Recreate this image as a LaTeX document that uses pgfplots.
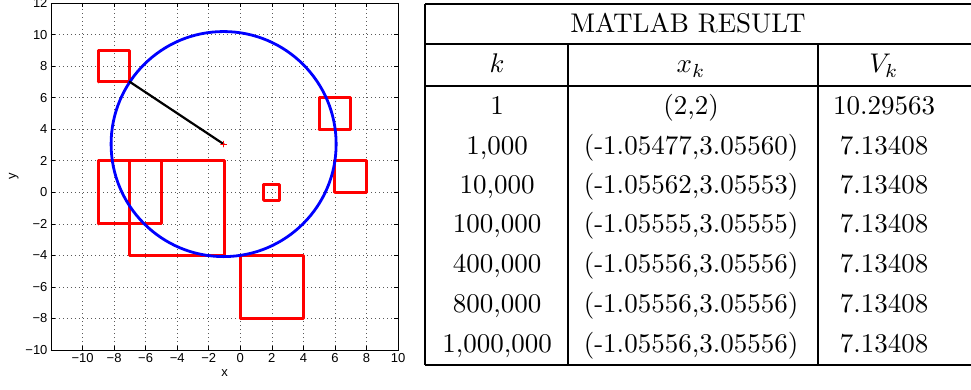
\documentclass[border=0pt]{standalone}
\usepackage{pgfplots}
\pgfplotsset{compat=1.18}
\usepackage{fontspec}
\newfontfamily\plotfont{Liberation Sans}
\newcommand\pf{\plotfont\fontsize{13}{13}\selectfont}

\begin{document}
\begin{tikzpicture}[x=1pt,y=1pt]
\useasboundingbox (0,0) rectangle (971,389);
\begin{axis}[
  at={(51pt,39pt)}, anchor=south west,
  scale only axis, width=347pt, height=347pt,
  xmin=-12, xmax=10, ymin=-10, ymax=12,
  xtick={-10,-8,...,10}, ytick={-10,-8,...,12},
  xticklabels={−10,−8,−6,−4,−2,0,2,4,6,8,10},
  yticklabels={−10,−8,−6,−4,−2,0,2,4,6,8,10,12},
  tick align=inside, tick pos=both, major tick length=4pt,
  grid=major,
  major grid style={black!65, line width=0.6pt, dash pattern=on 0.8pt off 3.2pt},
  axis line style={line width=0.8pt},
  tick style={black, line width=0.6pt},
  tick label style={font=\pf},
  label style={font=\pf},
  xlabel={x}, ylabel={y},
  every axis plot/.append style={line cap=round, line join=round},
]
% obstacles (squares)
\addplot[red, line width=2.9pt] coordinates {(-9,7) (-7,7) (-7,9) (-9,9) (-9,7)};
\addplot[red, line width=2.9pt] coordinates {(5,4) (7,4) (7,6) (5,6) (5,4)};
\addplot[red, line width=2.9pt] coordinates {(6,0) (8,0) (8,2) (6,2) (6,0)};
\addplot[red, line width=2.9pt] coordinates {(1.5,-0.5) (2.5,-0.5) (2.5,0.5) (1.5,0.5) (1.5,-0.5)};
\addplot[red, line width=2.9pt] coordinates {(-9,-2) (-5,-2) (-5,2) (-9,2) (-9,-2)};
\addplot[red, line width=2.9pt] coordinates {(-7,-4) (-1,-4) (-1,2) (-7,2) (-7,-4)};
\addplot[red, line width=2.9pt] coordinates {(0,-8) (4,-8) (4,-4) (0,-4) (0,-8)};
% largest empty circle
\draw[blue, line width=2.8pt] (axis cs:-1.05556,3.05556) circle[radius=7.13408];
% radius
\addplot[black, line width=2.2pt] coordinates {(-7,7) (-1.05556,3.05556)};
\addplot[red, only marks, mark=+, mark size=3pt, mark options={line width=0.6pt}] coordinates {(-1.05556,3.05556)};
\end{axis}

% table
\begin{scope}[line width=1.6pt]
\draw (425,385) -- (971,385);
\draw (425,345) -- (971,345);
\draw (425,303) -- (971,303);
\draw (425,24) -- (971,24);
\draw (425,385) -- (425,24);
\draw (568,345) -- (568,24);
\draw (818,345) -- (818,24);
\end{scope}
\tikzset{cell/.style={anchor=base, inner sep=0pt, scale=2.7}}
\node[cell] at (688,356) {MATLAB RESULT};
\node[cell] at (497,316) {$k$};
\node[cell] at (691,316) {$x_k$};
\node[cell] at (884,316) {$V_k$};
\node[cell] at (497,275) {1};
\node[cell] at (691,275) {(2,2)};
\node[cell] at (884,275) {10.29563};
\node[cell] at (497,235) {1,000};
\node[cell] at (691,235) {(-1.05477,3.05560)};
\node[cell] at (884,235) {7.13408};
\node[cell] at (497,196) {10,000};
\node[cell] at (691,196) {(-1.05562,3.05553)};
\node[cell] at (884,196) {7.13408};
\node[cell] at (497,157) {100,000};
\node[cell] at (691,157) {(-1.05555,3.05555)};
\node[cell] at (884,157) {7.13408};
\node[cell] at (497,117) {400,000};
\node[cell] at (691,117) {(-1.05556,3.05556)};
\node[cell] at (884,117) {7.13408};
\node[cell] at (497,77) {800,000};
\node[cell] at (691,77) {(-1.05556,3.05556)};
\node[cell] at (884,77) {7.13408};
\node[cell] at (497,37) {1,000,000};
\node[cell] at (691,37) {(-1.05556,3.05556)};
\node[cell] at (884,37) {7.13408};
\end{tikzpicture}
\end{document}
